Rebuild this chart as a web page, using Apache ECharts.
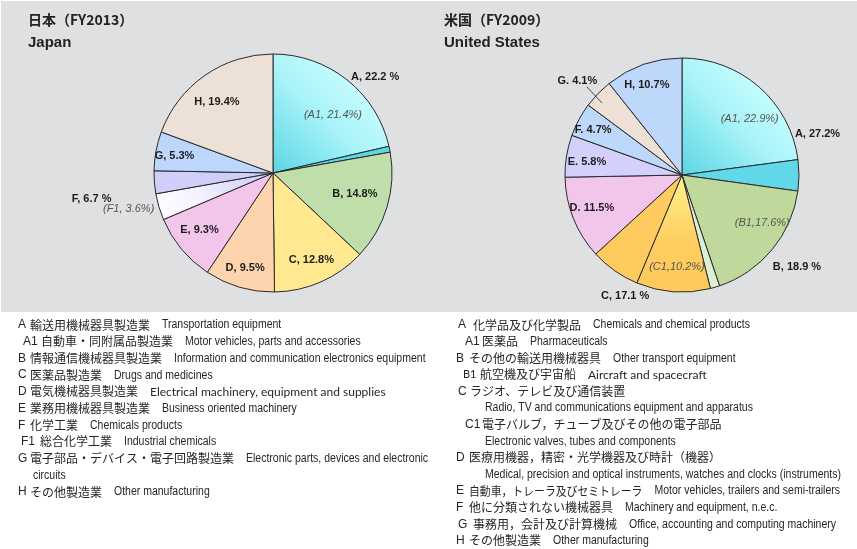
<!DOCTYPE html>
<html>
<head>
<meta charset="utf-8">
<script src="https://cdn.jsdelivr.net/npm/echarts@6/dist/echarts.min.js"></script>
<style>
  html, body { margin: 0; padding: 0; background: #ffffff; }
  #chart { width: 857px; height: 549px; }
</style>
</head>
<body>
<div id="chart"></div>
<script>
// ---- Japan (FY2013): shares of R&D by industry, % ----
const jpCategories = ['A', 'B', 'C', 'D', 'E', 'F', 'G', 'H'];
const jpShares = [22.2, 14.8, 12.8, 9.5, 9.3, 6.7, 5.3, 19.4];
const jpSubCategories = ['A1', 'F1'];
const jpSubParents = ['A', 'F'];
const jpSubShares = [21.4, 3.6];
const jpLabelSeparators = [', ', ', ', ', ', ', ', ', ', ', ', ', ', ', '];
const jpLabelPercentSigns = [' %', '%', '%', '%', '%', ' %', '%', '%'];
const jpSubSeparators = [', ', ', '];

// ---- United States (FY2009) ----
const usCategories = ['A', 'B', 'C', 'D', 'E', 'F', 'G', 'H'];
const usShares = [27.2, 18.9, 17.1, 11.5, 5.8, 4.7, 4.1, 10.7];
const usSubCategories = ['A1', 'B1', 'C1'];
const usSubParents = ['A', 'B', 'C'];
const usSubShares = [22.9, 17.6, 10.2];
const usLabelSeparators = [', ', ', ', ', ', '. ', '. ', '. ', '. ', ', '];
const usLabelPercentSigns = ['%', ' %', ' %', '%', '%', '%', '%', '%'];
const usSubSeparators = [', ', ',', ','];

// ---- Titles ----
const jpTitle = '日本（FY2013）';
const jpSubtitle = 'Japan';
const usTitle = '米国（FY2009）';
const usSubtitle = 'United States';

// ---- Industry key ----
const jpKeyCodes = ['A', 'A1', 'B', 'C', 'D', 'E', 'F', 'F1', 'G', 'H'];
const jpKeyJa = ['輸送用機械器具製造業', '自動車・同附属品製造業', '情報通信機械器具製造業', '医薬品製造業',
  '電気機械器具製造業', '業務用機械器具製造業', '化学工業', '総合化学工業',
  '電子部品・デバイス・電子回路製造業', 'その他製造業'];
const jpKeyEn = ['Transportation equipment', 'Motor vehicles, parts and accessories',
  'Information and communication electronics equipment', 'Drugs and medicines',
  'Electrical machinery, equipment and supplies', 'Business oriented machinery',
  'Chemicals products', 'Industrial chemicals',
  'Electronic parts, devices and electronic', 'Other manufacturing'];
const jpKeyEnNextLine = ['', '', '', '', '', '', '', '', 'circuits', ''];

const usKeyCodes = ['A', 'A1', 'B', 'B1', 'C', 'C1', 'D', 'E', 'F', 'G', 'H'];
const usKeyJa = ['化学品及び化学製品', '医薬品', 'その他の輸送用機械器具', '航空機及び宇宙船',
  'ラジオ、テレビ及び通信装置', '電子バルブ，チューブ及びその他の電子部品',
  '医療用機器，精密・光学機器及び時計（機器）', '自動車，トレーラ及びセミトレーラ',
  '他に分類されない機械器具', '事務用，会計及び計算機械', 'その他製造業'];
const usKeyEn = ['Chemicals and chemical products', 'Pharmaceuticals', 'Other transport equipment',
  'Aircraft and spacecraft', '', '', '', 'Motor vehicles, trailers and semi-trailers',
  'Machinery and equipment, n.e.c.', 'Office, accounting and computing machinery', 'Other manufacturing'];
const usKeyEnNextLine = ['', '', '', '', 'Radio, TV and communications equipment and apparatus',
  'Electronic valves, tubes and components',
  'Medical, precision and optical instruments, watches and clocks (instruments)', '', '', '', ''];

// ---------------- styling ----------------
const BORDER = '#2a2a2a';
const grad = (x, y, x2, y2, stops) => ({
  type: 'linear', x, y, x2, y2,
  colorStops: stops.map(s => ({ offset: s[0], color: s[1] }))
});
const cyanGrad = grad(0, 1, 1, 0, [[0, '#5ad5e4'], [0.45, '#a8f3f8'], [0.75, '#c8fdfe'], [1, '#d2ffff']]);
const jpFill = {
  A: '#5fd6e6', B: '#bfdea9', C: '#ffe88f', D: '#fdd4ae', E: '#f2c5ea',
  F: '#d0cefb', G: '#bcd7fb', H: '#ede0d6',
  A1: cyanGrad,
  F1: grad(0, 1, 1, 0, [[0, '#ffffff'], [0.4, '#f3f2fe'], [1, '#c9c6f5']])
};
const usFill = {
  A: '#60d8e7', B: '#dcefd5', C: '#ffcb5f', D: '#f2c5ea', E: '#d3d1fc',
  F: '#bdd8fb', G: '#ede0d6', H: '#bdd8fb',
  A1: cyanGrad,
  B1: '#bfd99c',
  C1: grad(0, 0, 0, 1, [[0, '#fff48e'], [0.35, '#ffdc72'], [0.6, '#ffcd60'], [1, '#ffc95c']])
};

// label placement: [radius fraction, angular nudge in degrees]
const jpMainPlace = [[1.18, 6.7], [0.71, -2.2], [0.80, 0], [0.83, 0], [0.78, 2.2], [1.54, 2.8], [0.84, -0.8], [0.76, -3.4]];
const jpSubPlace = { A1: [0.70, 7.5], F1: [1.25, 2.6] };
const usMainPlace = [[1.21, 24.2], [1.26, -3.2], [1.14, 8.5], [0.82, 1.7], [0.82, -1.6], [0.85, -1.5], [1.20, -2.3], [0.83, -2.0]];
const usSubPlace = { A1: [0.75, 9.3], B1: [0.80, -8.6], C1: [0.79, -1.2] };

const PIE_JP = { cx: 273, cy: 173, r: 119 };
const PIE_US = { cx: 682, cy: 175, r: 117 };

// ---------------- helpers ----------------
function detailSlices(cats, shares, subCats, subParents, subShares) {
  const out = [];
  cats.forEach((c, i) => {
    const k = subParents.indexOf(c);
    if (k >= 0) {
      out.push({ name: subCats[k], value: subShares[k], sub: k });
      out.push({ name: c, value: +(shares[i] - subShares[k]).toFixed(1), sub: -1 });
    } else {
      out.push({ name: c, value: shares[i], sub: -1 });
    }
  });
  return out;
}

function midAngles(values) {
  const total = values.reduce((a, b) => a + b, 0);
  let acc = 0;
  return values.map(v => { const m = (acc + v / 2) / total * 360; acc += v; return m; });
}

function polarPoint(pie, deg, frac) {
  const a = deg * Math.PI / 180;
  return [pie.cx + pie.r * frac * Math.sin(a), pie.cy - pie.r * frac * Math.cos(a)];
}

function placeLabels(pie, mids, places) {
  return function (p) {
    const s = places[p.dataIndex];
    if (!s) return {};
    const pt = polarPoint(pie, mids[p.dataIndex] + s[1], s[0]);
    return { x: pt[0], y: pt[1], align: 'center', verticalAlign: 'middle' };
  };
}

const mainLabelStyle = {
  show: true, position: 'inside', color: '#1c1c1c',
  fontFamily: 'Liberation Sans', fontWeight: 'bold', fontSize: 11
};
const subLabelStyle = {
  show: true, position: 'inside', color: '#555555',
  fontFamily: 'Liberation Sans', fontStyle: 'italic', fontSize: 11
};

function buildPie(pie, cats, shares, subCats, subParents, subShares, fills, seps, pcts, subSeps, mainPlace, subPlace) {
  const detail = detailSlices(cats, shares, subCats, subParents, subShares);
  const detailMids = midAngles(detail.map(d => d.value));
  const detailPlace = detail.map(d => (d.sub >= 0 ? subPlace[d.name] : null));
  const detailSeries = {
    type: 'pie', center: [pie.cx, pie.cy], radius: pie.r,
    startAngle: 90, clockwise: true, avoidLabelOverlap: false,
    silent: true, animation: false, z: 2,
    itemStyle: { borderColor: BORDER, borderWidth: 1 },
    emphasis: { disabled: true },
    labelLine: { show: false },
    data: detail.map(d => ({
      name: d.name, value: d.value,
      itemStyle: { color: fills[d.name] },
      label: d.sub >= 0
        ? Object.assign({}, subLabelStyle, {
            formatter: '(' + d.name + subSeps[d.sub] + d.value.toFixed(1) + '%)'
          })
        : { show: false }
    })),
    labelLayout: placeLabels(pie, detailMids, detailPlace)
  };
  const mainMids = midAngles(shares);
  const mainSeries = {
    type: 'pie', center: [pie.cx, pie.cy], radius: pie.r,
    startAngle: 90, clockwise: true, avoidLabelOverlap: false,
    silent: true, animation: false, z: 3,
    itemStyle: { color: 'rgba(0,0,0,0)', borderWidth: 0 },
    emphasis: { disabled: true },
    labelLine: { show: false },
    label: mainLabelStyle,
    data: cats.map((c, i) => ({
      name: c, value: shares[i],
      label: { formatter: c + seps[i] + shares[i].toFixed(1) + pcts[i] }
    })),
    labelLayout: placeLabels(pie, mainMids, mainPlace)
  };
  return { series: [detailSeries, mainSeries], mainMids };
}

const jp = buildPie(PIE_JP, jpCategories, jpShares, jpSubCategories, jpSubParents, jpSubShares,
  jpFill, jpLabelSeparators, jpLabelPercentSigns, jpSubSeparators, jpMainPlace, jpSubPlace);
const us = buildPie(PIE_US, usCategories, usShares, usSubCategories, usSubParents, usSubShares,
  usFill, usLabelSeparators, usLabelPercentSigns, usSubSeparators, usMainPlace, usSubPlace);

// leader line for the small G slice of the US pie
const gIdx = usCategories.indexOf('G');
const leadFrom = polarPoint(PIE_US, us.mainMids[gIdx] - 1.3, 1.11);
const leadTo = polarPoint(PIE_US, us.mainMids[gIdx] - 2.1, 0.92);

// ---------------- text blocks ----------------
const CJK = '"Noto Sans CJK JP"';
const TXT = '#262626';
const JA_SIZE = 12;
const GAP = 12;
const EN_SIZE = 12.5;
const NARROW_SCALE = 0.84;
const RIGHT_LIMIT = 840;

const measureCtx = document.createElement('canvas').getContext('2d');
function textWidth(str, font) { measureCtx.font = font; return measureCtx.measureText(str).width; }

function plainText(x, y, str, family, size, extra) {
  return Object.assign({
    type: 'text', x, y, silent: true,
    style: { text: str, fontFamily: family, fontSize: size, fill: TXT, verticalAlign: 'middle', align: 'left' }
  }, extra || {});
}

// code, Japanese name, English name (condensed sans, or a humanist face where marked);
// a Japanese name is squeezed slightly when the line would run past the right margin
function keyEntry(out, codeX, jaX, y, code, ja, en, humanist, nextLine, nextX, dy) {
  out.push(plainText(codeX, y, code, humanist && code.length > 1 ? 'Lato' : 'Liberation Sans',
    humanist && code.length > 1 ? 11 : 12));
  const jaW = textWidth(ja, JA_SIZE + 'px ' + CJK);
  let jaScale = 1;
  if (en && !humanist) {
    const enW = textWidth(en, EN_SIZE + 'px "Liberation Sans"') * NARROW_SCALE;
    const room = RIGHT_LIMIT - enW - GAP - jaX;
    if (room < jaW) jaScale = room / jaW;
    out.push(plainText(jaX + jaW * jaScale + GAP, y, en, 'Liberation Sans', EN_SIZE, { scaleX: NARROW_SCALE }));
  } else if (en) {
    out.push(plainText(jaX + jaW + GAP, y, en, 'Lato', 12));
  }
  out.push(plainText(jaX, y, ja, CJK, JA_SIZE, jaScale < 1 ? { scaleX: jaScale } : null));
  if (nextLine) out.push(plainText(nextX, y + dy, nextLine, 'Liberation Sans', EN_SIZE, { scaleX: NARROW_SCALE }));
}

const graphics = [];
graphics.push({ type: 'rect', shape: { x: 1, y: 1, width: 856, height: 311 }, style: { fill: '#dfe0e2' }, z: -10, silent: true });

[[28, jpTitle, jpSubtitle], [444, usTitle, usSubtitle]].forEach(t => {
  graphics.push({ type: 'text', x: t[0], y: 20, silent: true,
    style: { text: t[1], fontFamily: CJK, fontWeight: 'bold', fontSize: 14, fill: '#222', verticalAlign: 'middle' } });
  graphics.push({ type: 'text', x: t[0], y: 43, silent: true,
    style: { text: t[2], fontFamily: 'Liberation Sans', fontWeight: 'bold', fontSize: 15, fill: '#222', verticalAlign: 'middle' } });
});

graphics.push({ type: 'polyline', silent: true, z: 20,
  shape: { points: [leadFrom, leadTo] }, style: { stroke: '#222', lineWidth: 0.8 } });

// Japan key
const jpRow = [0, 1, 2, 3, 4, 5, 6, 7, 8, 10];
const jpCodeX = [18, 23, 18, 18, 18, 18, 18, 21, 18, 18];
const jpJaX = [30, 41, 30, 30, 30, 30, 30, 40, 30, 30];
jpKeyCodes.forEach((code, i) => {
  keyEntry(graphics, jpCodeX[i], jpJaX[i], 325 + 16.7 * jpRow[i], code, jpKeyJa[i], jpKeyEn[i],
    code === 'D', jpKeyEnNextLine[i], 33, 16.7);
});

// US key
const usRow = [0, 1, 2, 3, 4, 6, 8, 10, 11, 12, 13];
const usCodeX = [458, 465, 456, 463, 458, 465, 456, 456, 456, 458, 456];
const usJaX = [473, 482, 469, 480, 470, 482, 469, 469, 469, 473, 469];
usKeyCodes.forEach((code, i) => {
  keyEntry(graphics, usCodeX[i], usJaX[i], 325 + 16.6 * usRow[i], code, usKeyJa[i], usKeyEn[i],
    code === 'B1', usKeyEnNextLine[i], 485, 16.6);
});

const chart = echarts.init(document.getElementById('chart'));
chart.setOption({
  backgroundColor: '#ffffff',
  animation: false,
  series: jp.series.concat(us.series),
  graphic: { elements: graphics }
});
</script>
</body>
</html>
